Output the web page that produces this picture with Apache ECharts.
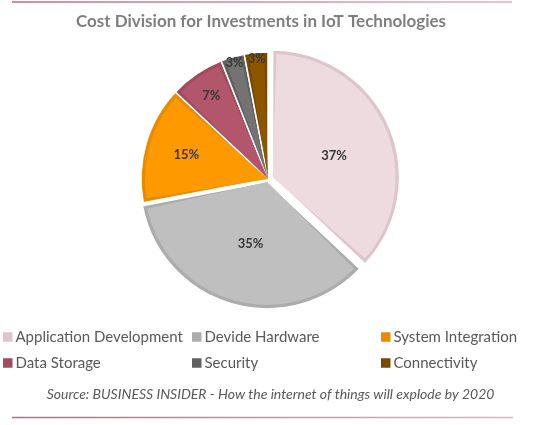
<!DOCTYPE html>
<html><head><meta charset="utf-8">
<script src="https://cdn.jsdelivr.net/npm/echarts@6/dist/echarts.min.js"></script>
<style>html,body{margin:0;padding:0;background:#fff}#c{width:540px;height:425px}</style>
</head><body><div id="c"></div>
<script>
// ---- data ----
const categories = ['Application Development', 'Devide Hardware', 'System Integration', 'Data Storage', 'Security', 'Connectivity'];
const shares = [37, 35, 15, 7, 3, 3];
const fillColors = ['#eedbe0', '#bfbfbf', '#ff9900', '#b4566b', '#737373', '#8c5500'];
const edgeColors = ['#dcc6cc', '#acacac', '#e88b00', '#a04b5e', '#606060', '#794900'];
const legendCol1 = [categories[0], categories[3]];
const legendCol2 = [categories[1], categories[4]];
const legendCol3 = [categories[2], categories[5]];
const titleText = 'Cost Division for Investments in IoT Technologies';
const sourceText = 'Source: BUSINESS INSIDER - How the internet of things will explode by 2020';

// ---- layout / style ----
const FONT = 'Lato, "Open Sans", sans-serif';
const CX = 268, CY = 179, R = 127, EDGE = 4;

function pieLayer(members, offset, radius, styleFn, opts) {
  opts = opts || {};
  return {
    type: 'pie', center: [CX, CY], radius: radius, startAngle: 90, clockwise: true,
    selectedMode: 'multiple', selectedOffset: offset, animation: false, silent: true,
    padAngle: opts.padAngle || 0, avoidLabelOverlap: false, minAngle: 0,
    emphasis: { disabled: true }, labelLine: { show: false },
    label: { show: false },
    data: categories.map(function (name, i) {
      const on = members.indexOf(name) >= 0;
      const st = on && styleFn ? styleFn(i) : { color: 'rgba(0,0,0,0)', borderWidth: 0 };
      const lab = on && opts.label ? {
        show: true, position: 'inside', formatter: '{c}%', color: '#383838',
        fontFamily: FONT, fontSize: opts.fontSize || 13, fontWeight: 'bold', textBorderWidth: 0
      } : { show: false };
      return {
        name: name, value: shares[i], selected: on && offset > 0,
        itemStyle: st, select: { itemStyle: st, label: lab }, label: lab
      };
    })
  };
}
const darkStyle = function (i) { return { color: edgeColors[i], borderColor: '#ffffff', borderWidth: 1.5 }; };
const lightStyle = function (i) { return { color: fillColors[i], borderWidth: 0 }; };

const groupA = [categories[0]];
const groupB = [categories[1]];
const groupC = categories.slice(2);

const series = [
  pieLayer(groupA, 5, [0, R], darkStyle),
  pieLayer(groupA, 5, [0, R - EDGE], lightStyle, { padAngle: 3.6, label: true }),
  pieLayer(groupB, 3, [0, R], darkStyle),
  pieLayer(groupB, 3, [0, R - EDGE], lightStyle, { padAngle: 3.6, label: true }),
  pieLayer(groupC, 0, [0, R], darkStyle),
  pieLayer(groupC, 0, [0, R - EDGE], lightStyle, { padAngle: 3.6 }),
  pieLayer([categories[2]], 0, [37, R], null, { label: true }),
  pieLayer([categories[3]], 0, [69, R], null, { label: true }),
  pieLayer([categories[4], categories[5]], 0, [108, R], null, { label: true, fontSize: 12.5 })
];

function legendCol(names, left) {
  return {
    top: 329.5, left: left, padding: 0, orient: 'vertical', itemGap: 11, itemWidth: 9.5, itemHeight: 9.5,
    icon: 'rect', selectedMode: false,
    textStyle: { fontFamily: FONT, fontSize: 15, color: '#595959', padding: [0, 0, 0, -2] },
    data: names.map(function (n) {
      const i = categories.indexOf(n);
      return { name: n, icon: 'rect', itemStyle: { color: edgeColors[i], borderWidth: 0 } };
    })
  };
}

const chart = echarts.init(document.getElementById('c'), null, { renderer: 'canvas' });
const lineGrad = function () {
  return new echarts.graphic.LinearGradient(0, 0, 1, 0, [
    { offset: 0, color: '#c4687b' }, { offset: 1, color: '#e2b3bd' }
  ]);
};
chart.setOption({
  backgroundColor: '#ffffff',
  animation: false,
  legend: [legendCol(legendCol1, 3), legendCol(legendCol2, 192), legendCol(legendCol3, 381)],
  series: series,
  graphic: [
    { type: 'line', shape: { x1: 12, y1: 2, x2: 512, y2: 2 }, style: { stroke: lineGrad(), lineWidth: 1.5 }, silent: true },
    { type: 'line', shape: { x1: 12, y1: 417.5, x2: 513, y2: 417.5 }, style: { stroke: lineGrad(), lineWidth: 1.5 }, silent: true },
    {
      type: 'text', x: 261, y: 22, silent: true,
      style: {
        text: titleText, fontFamily: FONT, fontSize: 17, fontWeight: 'bold',
        fill: '#7f7f7f', align: 'center', verticalAlign: 'middle'
      }
    },
    {
      type: 'text', x: 270.5, y: 394, silent: true,
      style: {
        text: sourceText, fontFamily: FONT, fontSize: 14, fontStyle: 'italic',
        fill: '#595959', align: 'center', verticalAlign: 'middle'
      }
    }
  ]
});
</script></body></html>
